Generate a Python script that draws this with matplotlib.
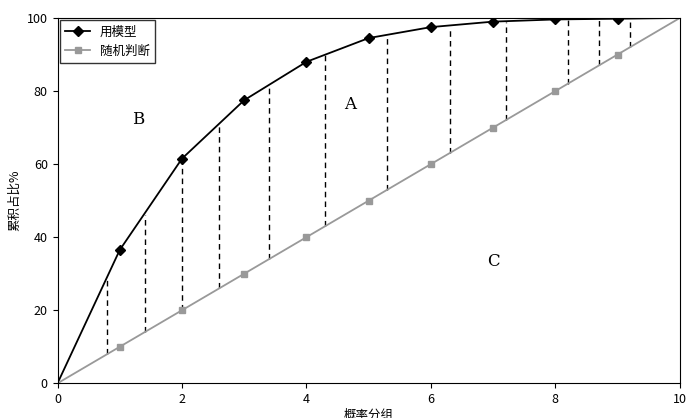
import matplotlib
matplotlib.use("Agg")
import matplotlib.pyplot as plt

plt.rcParams['font.family'] = ['Noto Sans CJK SC', 'DejaVu Sans']

x_model = [0, 1, 2, 3, 4, 5, 6, 7, 8, 9, 10]
y_model = [0, 36.5, 61.5, 77.5, 88, 94.5, 97.5, 99, 99.6, 99.8, 100]
x_rand = [0, 1, 2, 3, 4, 5, 6, 7, 8, 9, 10]
y_rand = [0, 10, 20, 30, 40, 50, 60, 70, 80, 90, 100]
dash_x = [0.8, 1.4, 2.0, 2.6, 3.4, 4.3, 5.3, 6.3, 7.2, 8.2, 8.7, 9.2]
dash_top = [29, 46, 61.5, 71, 82, 90, 95, 97.5, 99, 99.6, 99.7, 99.9]
dash_bot = [8, 14, 20, 26, 34, 43, 53, 63, 72, 82, 87, 92]

fig = plt.figure(figsize=(6.93, 4.18), dpi=100)
ax = fig.add_axes([0.083, 0.083, 0.898, 0.874])

ax.vlines(dash_x, dash_bot, dash_top, colors='black', linestyles=(0, (4, 3)), linewidth=1)
ax.plot(x_model, y_model, color='black', linewidth=1.3, marker='D', markersize=5,
        markevery=list(range(1, 10)), label='用模型')
ax.plot(x_rand, y_rand, color='#999999', linewidth=1.3, marker='s', markersize=5,
        markevery=list(range(1, 10)), label='随机判断')

ax.text(1.2, 71, 'B', fontsize=12, family='DejaVu Serif')
ax.text(4.6, 75, 'A', fontsize=12, family='DejaVu Serif')
ax.text(6.9, 32, 'C', fontsize=12, family='DejaVu Serif')

ax.set_xlim(0, 10)
ax.set_ylim(0, 100)
ax.set_xticks(range(0, 11, 2))
ax.set_yticks(range(0, 101, 20))
ax.tick_params(labelsize=9)
ax.set_xlabel('概率分组', fontsize=9, labelpad=2)
ax.set_ylabel('累积占比%', fontsize=9)
ax.legend(loc='upper left', fontsize=9, frameon=True, edgecolor='black', fancybox=False,
          borderaxespad=0.2)

fig.savefig('out.png', dpi=100)
